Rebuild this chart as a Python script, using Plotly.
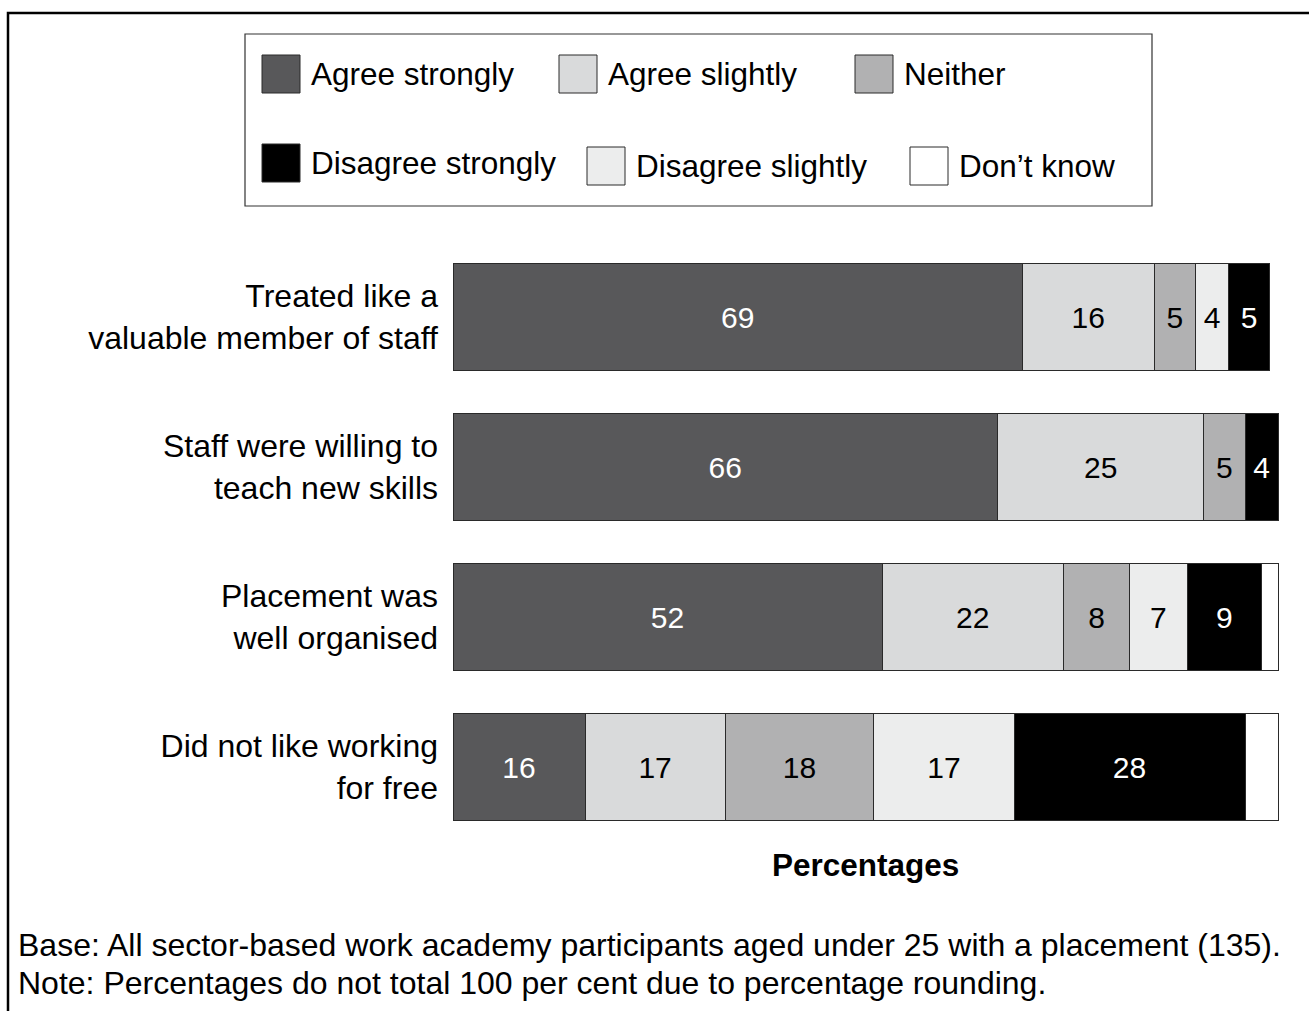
import plotly.graph_objects as go

# Survey statements (top to bottom)
statements = [
    "Treated like a<br>valuable member of staff",
    "Staff were willing to<br>teach new skills",
    "Placement was<br>well organised",
    "Did not like working<br>for free",
]

# Response categories and their percentages per statement
responses = ["Agree strongly", "Agree slightly", "Neither",
             "Disagree strongly", "Disagree slightly", "Don\u2019t know"]

agree_strongly = [69, 66, 52, 16]
agree_slightly = [16, 25, 22, 17]
neither = [5, 5, 8, 18]
disagree_slightly = [4, 0, 7, 17]
disagree_strongly = [5, 4, 9, 28]
dont_know = [0, 0, 2, 4]

# Segment labels (blank where the segment carries no label)
lbl_agree_strongly = ["69", "66", "52", "16"]
lbl_agree_slightly = ["16", "25", "22", "17"]
lbl_neither = ["5", "5", "8", "18"]
lbl_disagree_slightly = ["4", "", "7", "17"]
lbl_disagree_strongly = ["5", "4", "9", "28"]
lbl_dont_know = ["", "", "", ""]

FONT = "Liberation Sans, Arial, Helvetica, sans-serif"
colors = {
    "Agree strongly": "#58585a",
    "Agree slightly": "#d9dadb",
    "Neither": "#b1b1b2",
    "Disagree strongly": "#000000",
    "Disagree slightly": "#eceded",
    "Don\u2019t know": "#ffffff",
}
text_colors = {
    "Agree strongly": "white",
    "Agree slightly": "black",
    "Neither": "black",
    "Disagree strongly": "white",
    "Disagree slightly": "black",
    "Don\u2019t know": "black",
}

# Stacking order along the bar
stack = [
    ("Agree strongly", agree_strongly, lbl_agree_strongly),
    ("Agree slightly", agree_slightly, lbl_agree_slightly),
    ("Neither", neither, lbl_neither),
    ("Disagree slightly", disagree_slightly, lbl_disagree_slightly),
    ("Disagree strongly", disagree_strongly, lbl_disagree_strongly),
    ("Don\u2019t know", dont_know, lbl_dont_know),
]

fig = go.Figure()
for name, vals, labels in stack:
    fig.add_trace(go.Bar(
        name=name,
        y=statements,
        x=vals,
        orientation="h",
        marker=dict(color=colors[name], line=dict(color="#2a2a2a", width=1)),
        text=labels,
        textposition="inside",
        insidetextanchor="middle",
        constraintext="none",
        textfont=dict(family=FONT, size=30, color=text_colors[name]),
        hoverinfo="skip",
        showlegend=False,
    ))

W, H = 1309, 1011
ML, MR, MT, MB = 453, 30, 242, 169
PW, PH = W - ML - MR, H - MT - MB


def px(xp):
    return (xp - ML) / PW


def py(yp):
    return (H - MB - yp) / PH


shapes = []
annotations = []

# Outer frame
shapes.append(dict(type="rect", xref="paper", yref="paper",
                   x0=px(8), x1=px(1330), y0=py(13), y1=py(1040),
                   line=dict(color="black", width=2.5), fillcolor="rgba(0,0,0,0)"))

# Legend box
shapes.append(dict(type="rect", xref="paper", yref="paper",
                   x0=px(245), x1=px(1152), y0=py(34), y1=py(206),
                   line=dict(color="#333333", width=1.2), fillcolor="white"))

legend_items = [
    (responses[0], 262, 74),
    (responses[1], 559, 74),
    (responses[2], 855, 74),
    (responses[3], 262, 163),
    (responses[4], 587, 166),
    (responses[5], 910, 166),
]
for name, x0, yc in legend_items:
    shapes.append(dict(type="rect", xref="paper", yref="paper",
                       x0=px(x0), x1=px(x0 + 38), y0=py(yc - 19), y1=py(yc + 19),
                       line=dict(color="#2a2a2a", width=1), fillcolor=colors[name]))
    annotations.append(dict(xref="paper", yref="paper", x=px(x0 + 47), y=py(yc),
                            xanchor="left", yanchor="middle", showarrow=False,
                            text=name, font=dict(family=FONT, size=31.5, color="black")))

# Axis caption
annotations.append(dict(xref="paper", yref="paper", x=px(865), y=py(865),
                        xanchor="center", yanchor="middle", showarrow=False,
                        text="<b>Percentages</b>",
                        font=dict(family=FONT, size=31.5, color="black")))

# Footnotes
annotations.append(dict(xref="paper", yref="paper", x=px(16), y=py(945),
                        xanchor="left", yanchor="middle", showarrow=False,
                        text="Base: All sector-based work academy participants aged under 25 with a placement (135).",
                        font=dict(family=FONT, size=32, color="black")))
annotations.append(dict(xref="paper", yref="paper", x=px(16), y=py(983),
                        xanchor="left", yanchor="middle", showarrow=False,
                        text="Note: Percentages do not total 100 per cent due to percentage rounding.",
                        font=dict(family=FONT, size=32, color="black")))

fig.update_layout(
    width=W, height=H,
    margin=dict(l=ML, r=MR, t=MT, b=MB, autoexpand=False),
    barmode="stack",
    bargap=0.287,
    paper_bgcolor="white",
    plot_bgcolor="white",
    font=dict(family=FONT, color="black"),
    shapes=shapes,
    annotations=annotations,
    showlegend=False,
)
fig.update_xaxes(range=[0, 100.12], showticklabels=False, showgrid=False,
                 zeroline=False, showline=False, ticks="")
fig.update_yaxes(autorange="reversed", showgrid=False, zeroline=False,
                 showline=False, ticks="", ticklabelstandoff=14,
                 tickfont=dict(family=FONT, size=32, color="black"))

fig.write_html("out.html")
